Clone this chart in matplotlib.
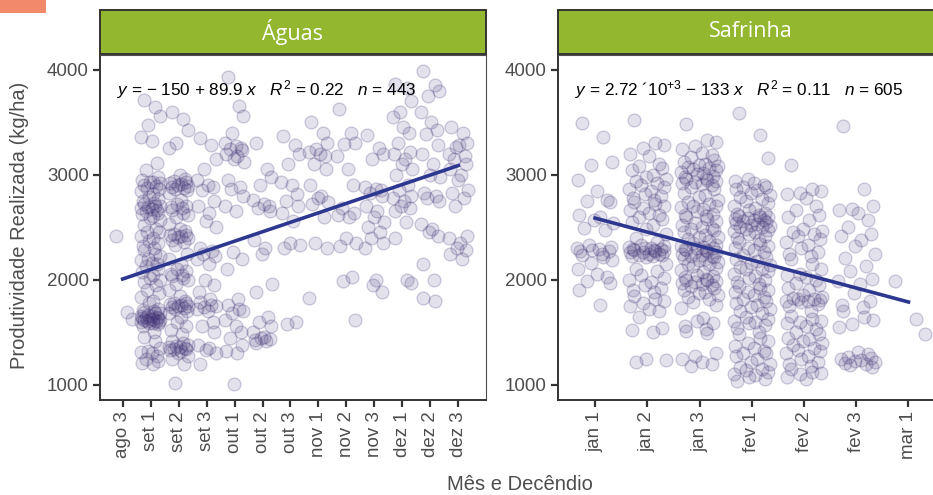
import numpy as np
import matplotlib.pyplot as plt
from matplotlib.patches import Rectangle

plt.rcParams['font.family'] = ['Liberation Sans', 'DejaVu Sans']
plt.rcParams['mathtext.fontset'] = 'custom'
plt.rcParams['mathtext.rm'] = 'Liberation Sans'
plt.rcParams['mathtext.it'] = 'Liberation Sans:italic'

# produtividade por decendio - aguas (decendio do ano: ago 3 = 24 ... dez 3 = 36)
ag_ticks = ['ago 3', 'set 1', 'set 2', 'set 3', 'out 1', 'out 2', 'out 3',
            'nov 1', 'nov 2', 'nov 3', 'dez 1', 'dez 2', 'dez 3']
ag_dec = [24, 25, 26, 27, 28, 29, 30, 31, 32, 33, 34, 35, 36]

ag_ago3 = [2420, 1690, 1630]
ag_set1 = [3710, 3640, 3560, 3470, 3360, 3320, 3110, 3040, 2980, 2950, 2930, 2930, 2920, 2900,
           2890, 2870, 2860, 2840, 2820, 2790, 2770, 2750, 2730, 2720, 2700, 2700, 2690, 2680,
           2670, 2660, 2650, 2640, 2630, 2610, 2590, 2570, 2520, 2480, 2450, 2450, 2420, 2400,
           2370, 2350, 2320, 2300, 2280, 2250, 2230, 2200, 2190, 2160, 2150, 2130, 2100, 2070,
           2050, 2020, 2000, 1980, 1950, 1900, 1870, 1840, 1800, 1780, 1720, 1710, 1700, 1690,
           1680, 1680, 1670, 1660, 1660, 1650, 1650, 1640, 1640, 1630, 1630, 1620, 1620, 1610,
           1610, 1600, 1600, 1590, 1590, 1580, 1560, 1500, 1460, 1420, 1350, 1320, 1310, 1300,
           1280, 1250, 1230, 1210, 1200]
ag_set2 = [3600, 3530, 3420, 3300, 3250, 3000, 2960, 2940, 2930, 2920, 2910, 2900, 2890, 2880,
           2870, 2860, 2850, 2830, 2760, 2720, 2700, 2690, 2680, 2660, 2640, 2620, 2600, 2530,
           2480, 2460, 2440, 2430, 2430, 2420, 2410, 2400, 2380, 2360, 2330, 2250, 2200, 2150,
           2100, 2080, 2060, 2050, 2040, 2020, 2000, 1960, 1900, 1850, 1800, 1780, 1780, 1770,
           1760, 1750, 1750, 1740, 1730, 1720, 1700, 1680, 1650, 1600, 1560, 1520, 1480, 1420,
           1400, 1380, 1370, 1360, 1360, 1350, 1340, 1340, 1330, 1320, 1300, 1280, 1250, 1200,
           1020]
ag_set3 = [3350, 3280, 3150, 3050, 2950, 2900, 2880, 2850, 2750, 2700, 2640, 2560, 2500, 2300,
           2270, 2250, 2230, 2200, 2150, 2000, 1950, 1880, 1820, 1790, 1760, 1750, 1740, 1720,
           1700, 1600, 1560, 1500, 1380, 1350, 1330, 1300, 1200]
ag_out1 = [3930, 3650, 3560, 3400, 3300, 3270, 3250, 3240, 3230, 3200, 3180, 3150, 3120, 2950,
           2880, 2860, 2800, 2700, 2650, 2260, 2200, 2100, 1820, 1760, 1720, 1700, 1680, 1620,
           1560, 1500, 1450, 1380, 1320, 1300, 1010]
ag_out2 = [3300, 3050, 2980, 2900, 2760, 2720, 2700, 2680, 2650, 2380, 2300, 2250, 1960, 1880,
           1650, 1600, 1560, 1500, 1460, 1450, 1440, 1430, 1420, 1400]
ag_out3 = [3370, 3280, 3200, 3100, 2930, 2900, 2820, 2750, 2700, 2640, 2560, 2350, 2330, 2300,
           1600, 1580]
ag_nov1 = [3500, 3400, 3300, 3240, 3220, 3200, 3180, 3100, 3050, 2900, 2800, 2780, 2740, 2720,
           2600, 2350, 2300, 1830]
ag_nov2 = [3620, 3400, 3300, 3290, 3180, 3050, 2900, 2680, 2640, 2620, 2600, 2400, 2350, 2320,
           2030, 1990, 1620]
ag_nov3 = [3380, 3250, 3200, 3150, 2880, 2860, 2850, 2830, 2800, 2700, 2650, 2600, 2550, 2500,
           2450, 2400, 2350, 2300, 2000, 1950, 1880]
ag_dez1 = [3860, 3820, 3700, 3600, 3550, 3450, 3400, 3300, 3220, 3200, 3150, 3100, 3050, 3000,
           2900, 2850, 2800, 2780, 2750, 2700, 2680, 2650, 2550, 2400, 2000, 1970]
ag_dez2 = [3990, 3850, 3800, 3750, 3600, 3500, 3420, 3390, 3280, 3200, 3100, 3000, 2980, 2830,
           2800, 2780, 2750, 2530, 2480, 2450, 2420, 2150, 2000, 1830, 1800]
ag_dez3 = [3450, 3400, 3300, 3260, 3200, 3280, 3180, 3150, 3100, 3050, 3000, 2950, 2850, 2830,
           2780, 2700, 2420, 2400, 2350, 2300, 2280, 2250, 2200]

# safrinha (jan 1 = 1 ... mar 1 = 7)
sf_ticks = ['jan 1', 'jan 2', 'jan 3', 'fev 1', 'fev 2', 'fev 3', 'mar 1']
sf_dec = [1, 2, 3, 4, 5, 6, 7]

sf_jan1 = [3490, 3360, 3120, 3090, 2950, 2840, 2760, 2750, 2740, 2620, 2600, 2570, 2540, 2490,
           2470, 2330, 2310, 2300, 2290, 2280, 2270, 2270, 2250, 2235, 2220, 2190, 2160, 2100,
           2060, 2030, 1990, 1970, 1900, 1760]
sf_jan2 = [3520, 3300, 3280, 3250, 3200, 3180, 3100, 3080, 3060, 3040, 3000, 2980, 2960, 2940,
           2920, 2900, 2880, 2860, 2840, 2820, 2800, 2780, 2760, 2740, 2720, 2700, 2680, 2660,
           2640, 2620, 2600, 2580, 2550, 2520, 2480, 2440, 2400, 2360, 2330, 2320, 2310, 2300,
           2300, 2290, 2290, 2280, 2280, 2270, 2270, 2260, 2260, 2250, 2250, 2240, 2240, 2230,
           2230, 2220, 2150, 2100, 2080, 2050, 2020, 2000, 1980, 1950, 1920, 1900, 1880, 1850,
           1820, 1800, 1780, 1750, 1720, 1700, 1650, 1540, 1520, 1500, 1250, 1240, 1220]
sf_jan3 = [3480, 3330, 3310, 3270, 3240, 3210, 3190, 3170, 3140, 3120, 3100, 3090, 3080, 3070,
           3060, 3050, 3040, 3030, 3020, 3010, 2990, 2980, 2970, 2960, 2950, 2940, 2930, 2920,
           2910, 2900, 2880, 2860, 2830, 2810, 2790, 2760, 2740, 2720, 2700, 2700, 2690, 2670,
           2650, 2630, 2620, 2610, 2600, 2580, 2560, 2540, 2520, 2500, 2490, 2480, 2470, 2450,
           2430, 2410, 2410, 2390, 2370, 2350, 2330, 2320, 2310, 2300, 2300, 2290, 2280, 2280,
           2270, 2260, 2260, 2250, 2240, 2230, 2230, 2220, 2210, 2200, 2190, 2170, 2150, 2150,
           2130, 2110, 2090, 2070, 2050, 2040, 2030, 2010, 2000, 2000, 1990, 1980, 1970, 1960,
           1950, 1940, 1920, 1900, 1880, 1870, 1860, 1840, 1820, 1790, 1760, 1730, 1640, 1610,
           1590, 1560, 1530, 1510, 1490, 1300, 1280, 1250, 1220, 1200, 1180]
sf_fev1 = [3590, 3380, 3160, 2960, 2940, 2920, 2900, 2880, 2880, 2860, 2850, 2830, 2810, 2790,
           2770, 2750, 2730, 2700, 2680, 2660, 2640, 2630, 2620, 2610, 2600, 2600, 2590, 2580,
           2570, 2570, 2560, 2550, 2540, 2530, 2520, 2510, 2500, 2500, 2480, 2470, 2460, 2450,
           2440, 2420, 2400, 2380, 2360, 2340, 2320, 2300, 2300, 2280, 2260, 2240, 2220, 2200,
           2180, 2160, 2140, 2120, 2100, 2100, 2080, 2060, 2040, 2020, 2000, 1980, 1960, 1940,
           1920, 1900, 1880, 1880, 1860, 1840, 1820, 1800, 1780, 1760, 1740, 1720, 1700, 1680,
           1650, 1630, 1610, 1600, 1590, 1570, 1540, 1500, 1480, 1450, 1420, 1400, 1370, 1350,
           1320, 1300, 1300, 1280, 1250, 1220, 1200, 1170, 1150, 1140, 1120, 1100, 1090, 1080,
           1060, 1040]
sf_fev2 = [3090, 2860, 2840, 2830, 2820, 2780, 2700, 2660, 2620, 2600, 2570, 2480, 2460, 2450,
           2440, 2420, 2390, 2360, 2330, 2300, 2260, 2250, 2230, 2200, 2150, 2100, 2060, 2050,
           2030, 2000, 1970, 1950, 1920, 1900, 1860, 1840, 1830, 1820, 1820, 1810, 1800, 1800,
           1790, 1770, 1750, 1700, 1660, 1630, 1610, 1600, 1590, 1560, 1530, 1500, 1480, 1450,
           1440, 1420, 1400, 1380, 1350, 1330, 1320, 1300, 1280, 1250, 1220, 1200, 1180, 1150,
           1120, 1110, 1100, 1080, 1060]
sf_fev3 = [3460, 2860, 2700, 2670, 2660, 2640, 2570, 2500, 2440, 2420, 2380, 2320, 2250, 2210,
           2130, 2080, 2010, 1990, 1960, 1870, 1800, 1760, 1740, 1700, 1650, 1620, 1580, 1550,
           1310, 1290, 1270, 1260, 1250, 1240, 1230, 1220, 1210, 1200, 1190, 1170]
sf_mar1 = [1990, 1630, 1480]

# espalhamento horizontal dos pontos dentro de cada decendio
jit = [-0.25, 0.15, 0.32, -0.08, -0.33, 0.04, 0.23, -0.16, 0.28, -0.30, 0.10, -0.02,
       0.35, -0.22, 0.19, -0.12, 0.31, -0.35, 0.07, -0.05, 0.26, -0.28, 0.13]

# ajustes lineares
ag_coef = (-150, 89.9)
sf_coef = (2720, -133)

ag_groups = [ag_ago3, ag_set1, ag_set2, ag_set3, ag_out1, ag_out2, ag_out3,
             ag_nov1, ag_nov2, ag_nov3, ag_dez1, ag_dez2, ag_dez3]
sf_groups = [sf_jan1, sf_jan2, sf_jan3, sf_fev1, sf_fev2, sf_fev3, sf_mar1]

W, H = 933, 495
fig = plt.figure(figsize=(W / 100, H / 100), dpi=100)

grey = '#4d4d4d'
dark = '#333333'
green = '#93b72f'
pt_face = (0.24, 0.18, 0.45, 0.14)
pt_edge = (0.24, 0.18, 0.45, 0.24)
line_col = '#2e3790'


def panel(left, dec, ticks, groups, coef, label, eq, xlim):
    ax = fig.add_axes([left / W, 1 - 400 / H, 386 / W, 345 / H])
    xs, ys = [], []
    for d, vals in zip(dec, groups):
        for i, v in enumerate(vals):
            xs.append(d + jit[i % len(jit)])
            ys.append(v)
    ax.scatter(xs, ys, s=86, facecolor=pt_face, edgecolor=pt_edge, linewidth=0.9, zorder=2)
    xl = np.array([dec[0], dec[-1]])
    ax.plot(xl, coef[0] + coef[1] * xl, color=line_col, lw=2.6, zorder=3)

    ax.set_xlim(*xlim)
    ax.set_ylim(857, 4138)
    ax.set_xticks(dec)
    ax.set_xticklabels(ticks, rotation=90)
    ax.set_yticks([1000, 2000, 3000, 4000])
    ax.tick_params(colors=dark, labelcolor=grey, labelsize=13.5, length=5, width=1.6, pad=3)
    for s in ['top', 'right']:
        ax.spines[s].set_color(grey)
        ax.spines[s].set_linewidth(0.8)
    for s in ['left', 'bottom']:
        ax.spines[s].set_color(dark)
        ax.spines[s].set_linewidth(1.4)

    # faixa do titulo do painel
    strip = Rectangle((0, 1 + 1 / 345), 1, 44 / 345, transform=ax.transAxes, clip_on=False,
                      facecolor=green, edgecolor=dark, linewidth=1.4)
    ax.add_patch(strip)
    ax.text(0.5, 1 + 23 / 345, label, transform=ax.transAxes, ha='center', va='center',
            color='white', fontsize=15.5, family=['Open Sans', 'DejaVu Sans'])
    ax.text(0.045, 0.9, eq, transform=ax.transAxes, ha='left', va='center', fontsize=12.3,
            color='black')
    return ax


panel(100, ag_dec, ag_ticks, ag_groups, ag_coef, 'Águas',
      r'$y$ = − 150 + 89.9 $x$   $R^2$ = 0.22   $n$ = 443', (23.19, 36.99))
panel(558, sf_dec, sf_ticks, sf_groups, sf_coef, 'Safrinha',
      r'$y$ = 2.72 ´10$^{+3}$ − 133 $x$   $R^2$ = 0.11   $n$ = 605', (0.29, 7.68))

fig.text(20 / W, 1 - 225 / H, 'Produtividade Realizada (kg/ha)', rotation=90,
         ha='center', va='center', color=grey, fontsize=14.5)
fig.text(520 / W, 1 - 484 / H, 'Mês e Decêndio', ha='center', va='center',
         color=grey, fontsize=14.5)

fig.patches.append(Rectangle((0, 1 - 13 / H), 46 / W, 13 / H, transform=fig.transFigure,
                             facecolor='#f3896b', edgecolor='none'))

fig.savefig('out.png', dpi=100)
